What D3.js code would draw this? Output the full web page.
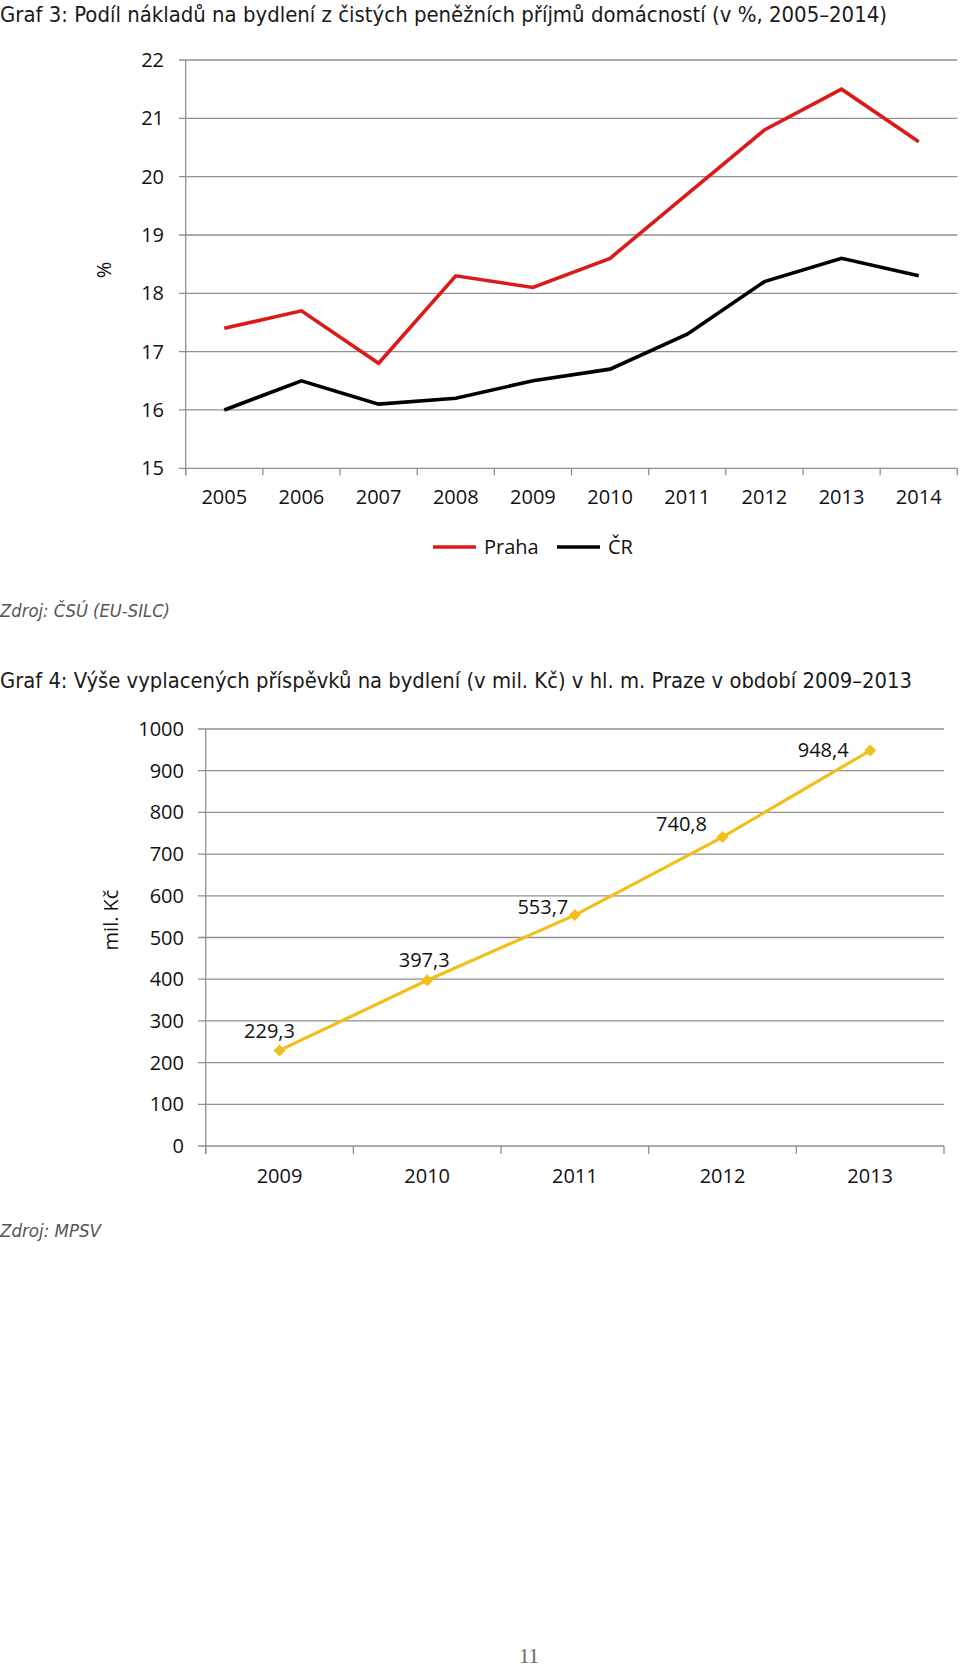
<!DOCTYPE html>
<html><head><meta charset="utf-8">
<script src="https://cdn.jsdelivr.net/npm/d3@7"></script>
<style>
html,body{margin:0;padding:0;background:#fff;}
svg{display:block;}
</style></head>
<body>
<script>
// ---- Data: Graf 3 ----
const years1 = ["2005","2006","2007","2008","2009","2010","2011","2012","2013","2014"];
const praha = [17.4, 17.7, 16.8, 18.3, 18.1, 18.6, 19.7, 20.8, 21.5, 20.6];
const cr = [16.0, 16.5, 16.1, 16.2, 16.5, 16.7, 17.3, 18.2, 18.6, 18.3];
const yTicks1 = [15, 16, 17, 18, 19, 20, 21, 22];
const seriesNames1 = ["Praha", "ČR"];

// ---- Data: Graf 4 ----
const years2 = ["2009","2010","2011","2012","2013"];
const prispevky = [229.3, 397.3, 553.7, 740.8, 948.4];
const yTicks2 = [0, 100, 200, 300, 400, 500, 600, 700, 800, 900, 1000];

// label nudges (dx, dy from point) – layout only
const labelShift = [[-10,-19],[-3,-20],[-32,-8],[-41,-13],[-47,-1]];

const W = 960, H = 1669;
const svg = d3.select("body").append("svg").attr("width", W).attr("height", H);
const FONT = "'Open Sans', sans-serif";
const NARROW = "'Liberation Sans Narrow', 'DejaVu Sans Condensed', sans-serif";
const GRID = "#8f8f8f";

// Titles
svg.append("text").attr("x", 0).attr("y", 22)
  .attr("font-family", NARROW).attr("font-size", 22).attr("fill", "#1a1a1a")
  .attr("textLength", 887).attr("lengthAdjust", "spacingAndGlyphs")
  .text("Graf 3: Podíl nákladů na bydlení z čistých peněžních příjmů domácností (v %, 2005–2014)");

svg.append("text").attr("x", 0).attr("y", 688)
  .attr("font-family", NARROW).attr("font-size", 22).attr("fill", "#1a1a1a")
  .attr("textLength", 912).attr("lengthAdjust", "spacingAndGlyphs")
  .text("Graf 4: Výše vyplacených příspěvků na bydlení (v mil. Kč) v hl. m. Praze v období 2009–2013");

// ---------- Chart 1 ----------
const x1 = d3.scaleBand().domain(years1).range([185.7, 957.3]).padding(0);
const y1 = d3.scaleLinear().domain([15, 22]).range([468.3, 60]);
const g1 = svg.append("g");

g1.selectAll("line.grid").data(yTicks1).join("line")
  .attr("x1", 179).attr("x2", 957.3)
  .attr("y1", d => y1(d)).attr("y2", d => y1(d))
  .attr("stroke", GRID).attr("stroke-width", 1.3);
g1.append("line").attr("x1", 185.7).attr("x2", 185.7).attr("y1", y1(22)).attr("y2", y1(15) + 7)
  .attr("stroke", GRID).attr("stroke-width", 1.3);
const bounds1 = years1.map(d => x1(d)).concat([x1.range()[1]]);
g1.selectAll("line.xt").data(bounds1).join("line")
  .attr("x1", d => d).attr("x2", d => d).attr("y1", y1(15)).attr("y2", y1(15) + 7)
  .attr("stroke", GRID).attr("stroke-width", 1.3);
g1.selectAll("text.yl").data(yTicks1).join("text")
  .attr("x", 164).attr("y", d => y1(d)).attr("dy", "0.35em")
  .attr("text-anchor", "end").attr("font-family", FONT).attr("font-size", 20).attr("fill", "#111")
  .text(d => d);
g1.selectAll("text.xl").data(years1).join("text")
  .attr("x", d => x1(d) + x1.bandwidth() / 2).attr("y", 497).attr("dy", "0.35em")
  .attr("text-anchor", "middle").attr("font-family", FONT).attr("font-size", 20).attr("fill", "#111")
  .text(d => d);
g1.append("text").attr("transform", "translate(104,270) rotate(-90)")
  .attr("text-anchor", "middle").attr("dy", "0.35em")
  .attr("font-family", FONT).attr("font-size", 20).attr("fill", "#111").text("%");

const line1 = d3.line().x((d, i) => x1(years1[i]) + x1.bandwidth() / 2).y(d => y1(d));
const colors1 = ["#dd1a1a", "#000000"];
[praha, cr].forEach((s, k) => {
  g1.append("path").datum(s).attr("d", line1).attr("fill", "none")
    .attr("stroke", colors1[k]).attr("stroke-width", 3.6).attr("stroke-linejoin", "miter");
});

const legX = [433, 557];
seriesNames1.forEach((n, k) => {
  g1.append("line").attr("x1", legX[k]).attr("x2", legX[k] + 43).attr("y1", 547).attr("y2", 547)
    .attr("stroke", colors1[k]).attr("stroke-width", 3.6);
  g1.append("text").attr("x", legX[k] + 51).attr("y", 547).attr("dy", "0.35em")
    .attr("font-family", FONT).attr("font-size", 20).attr("fill", "#111").text(n);
});

svg.append("text").attr("x", 0).attr("y", 617)
  .attr("font-family", NARROW).attr("font-style", "italic").attr("font-weight", 300)
  .attr("font-size", 18).attr("fill", "#555")
  .attr("textLength", 170).attr("lengthAdjust", "spacingAndGlyphs")
  .text("Zdroj: ČSÚ (EU-SILC)");

// ---------- Chart 2 ----------
const x2 = d3.scaleBand().domain(years2).range([205.7, 944]).padding(0);
const y2 = d3.scaleLinear().domain([0, 1000]).range([1146, 729]);
const g2 = svg.append("g");
const fmt = d3.formatLocale({decimal: ",", thousands: " ", grouping: [3], currency: ["", " Kč"]}).format(".1f");

g2.selectAll("line.grid").data(yTicks2).join("line")
  .attr("x1", 198).attr("x2", 944)
  .attr("y1", d => y2(d)).attr("y2", d => y2(d))
  .attr("stroke", GRID).attr("stroke-width", 1.3);
g2.append("line").attr("x1", 205.7).attr("x2", 205.7).attr("y1", y2(1000)).attr("y2", y2(0) + 8)
  .attr("stroke", GRID).attr("stroke-width", 1.3);
const bounds2 = years2.map(d => x2(d)).concat([x2.range()[1]]);
g2.selectAll("line.xt").data(bounds2).join("line")
  .attr("x1", d => d).attr("x2", d => d).attr("y1", y2(0)).attr("y2", y2(0) + 8)
  .attr("stroke", GRID).attr("stroke-width", 1.3);
g2.selectAll("text.yl").data(yTicks2).join("text")
  .attr("x", 184).attr("y", d => y2(d)).attr("dy", "0.35em")
  .attr("text-anchor", "end").attr("font-family", FONT).attr("font-size", 20).attr("fill", "#111")
  .text(d => d);
g2.selectAll("text.xl").data(years2).join("text")
  .attr("x", d => x2(d) + x2.bandwidth() / 2).attr("y", 1176).attr("dy", "0.35em")
  .attr("text-anchor", "middle").attr("font-family", FONT).attr("font-size", 20).attr("fill", "#111")
  .text(d => d);
g2.append("text").attr("transform", "translate(111,920) rotate(-90)")
  .attr("text-anchor", "middle").attr("dy", "0.35em")
  .attr("font-family", FONT).attr("font-size", 20).attr("fill", "#111").text("mil. Kč");

const GOLD = "#f0bf1a";
const px2 = (d, i) => x2(years2[i]) + x2.bandwidth() / 2;
const line2 = d3.line().x(px2).y(d => y2(d));
g2.append("path").datum(prispevky).attr("d", line2).attr("fill", "none")
  .attr("stroke", GOLD).attr("stroke-width", 3.2);
g2.selectAll("path.m").data(prispevky).join("path")
  .attr("d", d3.symbol().type(d3.symbolSquare).size(72))
  .attr("transform", (d, i) => `translate(${px2(d, i)},${y2(d)}) rotate(45)`)
  .attr("fill", GOLD);
g2.selectAll("text.dl").data(prispevky).join("text")
  .attr("x", (d, i) => px2(d, i) + labelShift[i][0])
  .attr("y", (d, i) => y2(d) + labelShift[i][1]).attr("dy", "0.35em")
  .attr("text-anchor", "middle").attr("font-family", FONT).attr("font-size", 20).attr("fill", "#111")
  .text(d => fmt(d));

svg.append("text").attr("x", 0).attr("y", 1237)
  .attr("font-family", NARROW).attr("font-style", "italic").attr("font-weight", 300)
  .attr("font-size", 18).attr("fill", "#555")
  .attr("textLength", 101).attr("lengthAdjust", "spacingAndGlyphs")
  .text("Zdroj: MPSV");

// page number
svg.append("text").attr("x", 529).attr("y", 1663).attr("text-anchor", "middle")
  .attr("font-family", "'Liberation Serif', serif").attr("font-size", 21).attr("fill", "#666")
  .text("11");
</script>
</body></html>
